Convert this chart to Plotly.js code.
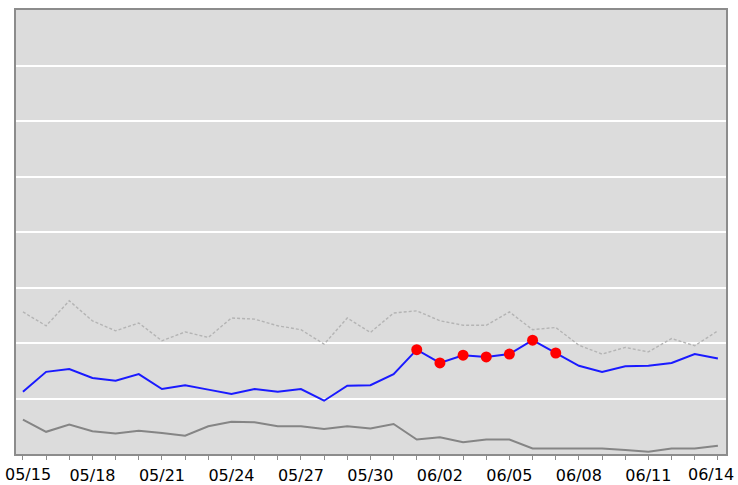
<!DOCTYPE html>
<html><head><meta charset="utf-8">
<script src="https://cdn.plot.ly/plotly-3.0.1.min.js"></script>
<style>html,body{margin:0;padding:0;background:#fff}#c{width:738px;height:485px}</style>
</head><body><div id="c"></div>
<script>
const dates = ['05/15','05/16','05/17','05/18','05/19','05/20','05/21','05/22','05/23','05/24',
  '05/25','05/26','05/27','05/28','05/29','05/30','05/31','06/01','06/02','06/03',
  '06/04','06/05','06/06','06/07','06/08','06/09','06/10','06/11','06/12','06/13','06/14'];
const upper = [25.6,23.1,27.6,24.0,22.2,23.6,20.4,22.0,21.0,24.5,
  24.3,23.1,22.4,19.8,24.5,21.9,25.4,25.8,24.0,23.2,
  23.2,25.6,22.4,22.8,19.6,18.0,19.2,18.4,20.8,19.5,22.2];
const middle = [11.2,14.8,15.3,13.7,13.2,14.4,11.7,12.4,11.6,10.8,
  11.7,11.2,11.7,9.6,12.3,12.4,14.4,18.8,16.4,17.8,
  17.5,18.0,20.5,18.2,15.9,14.8,15.8,15.9,16.4,18.0,17.2];
const lower = [6.2,4.0,5.3,4.1,3.7,4.2,3.8,3.3,5.0,5.8,
  5.7,5.0,5.0,4.5,5.0,4.6,5.4,2.6,3.0,2.1,
  2.6,2.6,1.0,1.0,1.0,1.0,0.7,0.4,1.0,1.0,1.5];
const highlightStart = 17, highlightEnd = 24; // 06/01 .. 06/07
const last = dates.length - 1;
const tickLabels = dates.map((d,i) => (i % 3 === 0 && i !== 0 && i !== last) ? d : '');
const labelFont = {family: 'DejaVu Sans', size: 16, color: '#000'};

const traces = [
  {x: dates, y: upper, mode: 'lines', line: {color: '#b4b4b4', width: 1.4, dash: '3px,2px'}, hoverinfo: 'skip'},
  {x: dates, y: lower, mode: 'lines', line: {color: '#858585', width: 2}, hoverinfo: 'skip'},
  {x: dates, y: middle, mode: 'lines', line: {color: '#1a1aff', width: 2}, hoverinfo: 'skip'},
  {x: dates.slice(highlightStart, highlightEnd), y: middle.slice(highlightStart, highlightEnd),
   mode: 'markers', marker: {color: '#ff0000', size: 11}, hoverinfo: 'skip'}
];
const layout = {
  width: 738, height: 485,
  margin: {l: 16, r: 12, t: 10, b: 31},
  paper_bgcolor: '#ffffff', plot_bgcolor: '#dcdcdc',
  showlegend: false,
  xaxis: {type: 'category', range: [-0.3, 30.35], tickmode: 'array', tickvals: dates, ticktext: tickLabels,
    ticks: 'outside', ticklen: 4, tickwidth: 1, tickcolor: '#8c8c8c', showgrid: false, zeroline: false,
    showline: true, mirror: true, linecolor: '#8c8c8c', linewidth: 2,
    ticklabelstandoff: 2, tickfont: labelFont},
  yaxis: {range: [0, 80], dtick: 10, showticklabels: false, ticks: '', gridcolor: '#ffffff', gridwidth: 2,
    zeroline: false, showline: true, mirror: true, linecolor: '#8c8c8c', linewidth: 2},
  annotations: [
    {x: dates[0], y: 0, xref: 'x', yref: 'paper', text: dates[0], showarrow: false, xanchor: 'center', yanchor: 'middle', xshift: 5, yshift: -20, font: labelFont},
    {x: dates[last], y: 0, xref: 'x', yref: 'paper', text: dates[last], showarrow: false, xanchor: 'center', yanchor: 'middle', xshift: -7, yshift: -20, font: labelFont}
  ]
};
Plotly.newPlot('c', traces, layout, {staticPlot: true, displayModeBar: false});
</script></body></html>
